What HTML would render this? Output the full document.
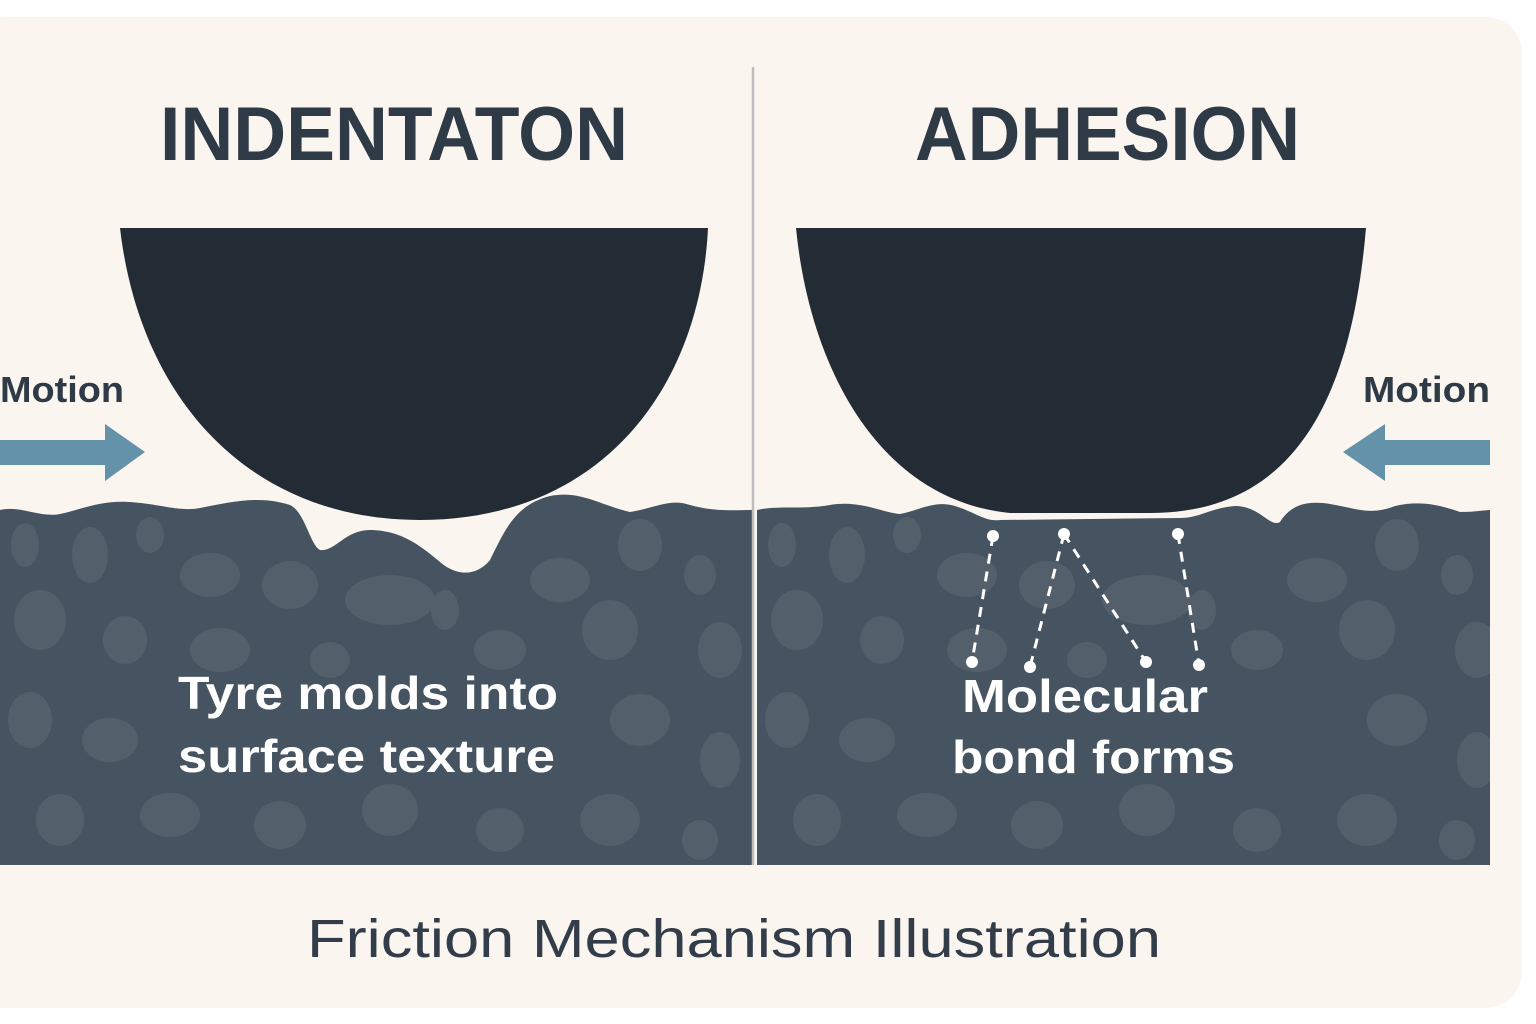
<!DOCTYPE html>
<html><head><meta charset="utf-8"><style>html,body{margin:0;padding:0;background:#fff}svg{display:block}</style></head>
<body>
<svg width="1536" height="1024" viewBox="0 0 1536 1024" xmlns="http://www.w3.org/2000/svg" font-family="Liberation Sans, sans-serif">
<rect x="-30" y="17" width="1552" height="991" rx="36" fill="#faf5ef"/>
<defs>
<clipPath id="gl"><path d="M0,510 C20,505 40,518 60,514 C80,510 100,500 130,502 C160,504 180,512 200,508 C230,502 260,495 290,505 C305,512 310,545 320,550 C335,552 345,530 370,530 C400,530 420,545 440,562 C455,575 475,578 490,560 C505,530 515,505 550,496 C580,490 600,505 630,512 C655,508 670,498 690,505 C715,512 735,510 752,510 L752,865 L0,865 Z"/></clipPath>
<clipPath id="gr"><path d="M757,510 C780,505 800,510 830,505 C860,500 880,512 900,514 C920,510 935,500 955,506 C975,512 985,522 1000,520 L1180,518 C1200,518 1210,508 1235,506 C1260,506 1270,528 1280,522 C1290,506 1305,500 1330,504 C1355,508 1370,516 1395,506 C1420,500 1440,505 1460,512 C1475,512 1485,510 1490,510 L1490,865 L757,865 Z"/></clipPath>
<g id="blobs" fill="#535f6b">
<ellipse cx="25" cy="545" rx="14" ry="22"/><ellipse cx="90" cy="555" rx="18" ry="28"/><ellipse cx="150" cy="535" rx="14" ry="18"/><ellipse cx="210" cy="575" rx="30" ry="22"/><ellipse cx="290" cy="585" rx="28" ry="24"/><ellipse cx="390" cy="600" rx="45" ry="25"/><ellipse cx="445" cy="610" rx="14" ry="20"/><ellipse cx="560" cy="580" rx="30" ry="22"/><ellipse cx="640" cy="545" rx="22" ry="26"/><ellipse cx="700" cy="575" rx="16" ry="20"/><ellipse cx="40" cy="620" rx="26" ry="30"/><ellipse cx="125" cy="640" rx="22" ry="24"/><ellipse cx="220" cy="650" rx="30" ry="22"/><ellipse cx="330" cy="660" rx="20" ry="18"/><ellipse cx="500" cy="650" rx="26" ry="20"/><ellipse cx="610" cy="630" rx="28" ry="30"/><ellipse cx="720" cy="650" rx="22" ry="28"/><ellipse cx="30" cy="720" rx="22" ry="28"/><ellipse cx="110" cy="740" rx="28" ry="22"/><ellipse cx="640" cy="720" rx="30" ry="26"/><ellipse cx="720" cy="760" rx="20" ry="28"/><ellipse cx="60" cy="820" rx="24" ry="26"/><ellipse cx="170" cy="815" rx="30" ry="22"/><ellipse cx="280" cy="825" rx="26" ry="24"/><ellipse cx="390" cy="810" rx="28" ry="26"/><ellipse cx="500" cy="830" rx="24" ry="22"/><ellipse cx="610" cy="820" rx="30" ry="26"/><ellipse cx="700" cy="840" rx="18" ry="20"/>
</g>
</defs>
<g clip-path="url(#gl)"><rect x="0" y="480" width="760" height="400" fill="#465461"/><use href="#blobs"/></g>
<g clip-path="url(#gr)"><rect x="750" y="480" width="760" height="400" fill="#465461"/><use href="#blobs" transform="translate(757,0)"/></g>
<line x1="753" y1="67" x2="753" y2="865" stroke="#bdbdbd" stroke-width="2.5"/>
<path d="M120,228 L708,228 C700,390 600,520 420,520 C250,520 140,400 120,228 Z" fill="#232b34"/>
<path d="M796,228 L1366,228 C1352,390 1300,513 1150,513 L1010,513 C880,500 810,370 796,228 Z" fill="#232b34"/>
<polygon points="0,440 105,440 105,424 145,452 105,481 105,465 0,465" fill="#6492a8"/>
<polygon points="1490,440 1385,440 1385,424 1343,452 1385,481 1385,465 1490,465" fill="#6492a8"/>
<g fill="#2f3a47" font-weight="bold">
<text x="160" y="160" font-size="76" textLength="468" lengthAdjust="spacingAndGlyphs">INDENTATON</text>
<text x="915" y="160" font-size="76" textLength="385" lengthAdjust="spacingAndGlyphs">ADHESION</text>
<text x="0" y="402" font-size="36" textLength="124" lengthAdjust="spacingAndGlyphs">Motion</text>
<text x="1363" y="402" font-size="36" textLength="127" lengthAdjust="spacingAndGlyphs">Motion</text>
</g>
<text x="307" y="957" font-size="54" fill="#333d4a" textLength="854" lengthAdjust="spacingAndGlyphs">Friction Mechanism Illustration</text>
<g fill="#fff" font-weight="bold" font-size="46">
<text x="178" y="709" textLength="380" lengthAdjust="spacingAndGlyphs">Tyre molds into</text>
<text x="178" y="772" textLength="377" lengthAdjust="spacingAndGlyphs">surface texture</text>
<text x="962" y="712" textLength="246" lengthAdjust="spacingAndGlyphs">Molecular</text>
<text x="952" y="773" textLength="283" lengthAdjust="spacingAndGlyphs">bond forms</text>
</g>
<g stroke="#fff" stroke-width="3" stroke-dasharray="10,8" fill="none">
<line x1="993" y1="536" x2="972" y2="662"/><line x1="1064" y1="534" x2="1030" y2="667"/><line x1="1064" y1="534" x2="1146" y2="662"/><line x1="1178" y1="534" x2="1199" y2="665"/>
</g>
<g fill="#fff">
<circle cx="993" cy="536" r="6"/><circle cx="1064" cy="534" r="6"/><circle cx="1178" cy="534" r="6"/><circle cx="972" cy="662" r="6"/><circle cx="1030" cy="667" r="6"/><circle cx="1146" cy="662" r="6"/><circle cx="1199" cy="665" r="6"/>
</g>
</svg>
</body></html>
